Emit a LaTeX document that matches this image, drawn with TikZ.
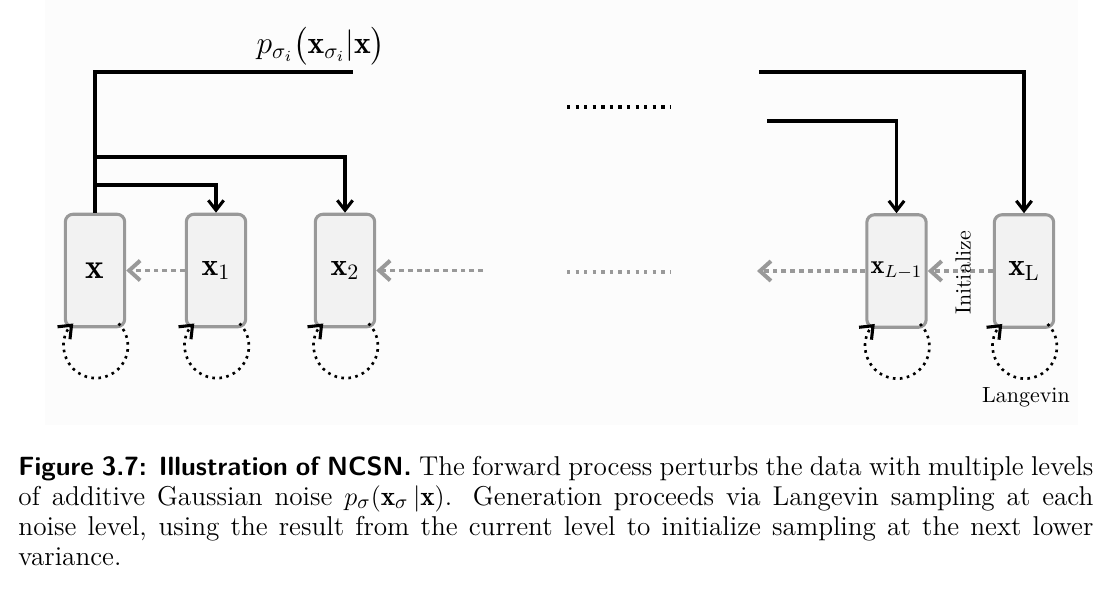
\documentclass[tikz,border=0pt]{standalone}
\usepackage{amsmath,amssymb}
\usepackage{fontspec}
\usetikzlibrary{arrows.meta}
\definecolor{boxgray}{rgb}{0.6,0.6,0.6}
\definecolor{boxfill}{rgb}{0.95,0.95,0.95}
\definecolor{backwhite}{rgb}{0.99,0.99,0.99}

\begin{document}
\begin{tikzpicture}[line join=miter,x=0.16cm,y=0.16cm,
    level/.style={draw=boxgray,fill=boxfill,line width=1.4pt,rounded corners=3.5pt,
        minimum width=0.95cm,minimum height=1.8cm,inner sep=0pt,font=\Large},
    perturb/.style={line width=1.4pt},
    perturbarrow/.style={perturb,-{Straight Barb[length=4.5pt,width=7pt]}},
    initarrow/.style={boxgray,line width=1.8pt,dash pattern=on 2.2pt off 1.8pt,
        -{Straight Barb[length=5pt,width=9pt]}},
    skipdots/.style={line width=1.5pt,dash pattern=on 1.5pt off 2.4pt},
    langevin/.style={line width=1.2pt,dash pattern=on 1.2pt off 2pt,
        -{Straight Barb[length=5pt,width=8pt,line width=1.4pt]}}]

    \useasboundingbox (0,0) rectangle (111.3,-58.9);
    \fill[backwhite] (4.5,0) rectangle (107.8,-42.5);

    % noise levels
    \node[level,font=\fontsize{16}{18}\selectfont] (x0) at (9.5,-27.05) {$\mathbf{x}$};
    \node[level] (x1) at (21.6,-27.05) {$\mathbf{x}_1$};
    \node[level] (x2) at (34.5,-27.05) {$\mathbf{x}_2$};
    \node[level,font=\large] (xLm) at (89.65,-27.1) {$\mathbf{x}_{L-1}$};
    \node[level] (xL) at (102.4,-27.1) {$\mathbf{x}_\mathrm{L}$};

    % forward process
    \coordinate (topL) at (35.3,-7.2);
    \coordinate (br2) at (0,-15.7);
    \coordinate (br1) at (0,-18.5);
    \draw[perturb] (x0.north) |- (topL);
    \draw[perturbarrow] (x0.north |- br2) -| (x2.north);
    \draw[perturbarrow] (x0.north |- br1) -| (x1.north);
    \node (plabel) at (32.1,-4.6) {\Large $p_{\sigma_i}\bigl(\mathbf{x}_{\sigma_i}|\mathbf{x}\bigr)$};

    \coordinate (topR) at (75.9,-7.2);
    \coordinate (midR) at (76.7,-12.1);
    \draw[perturbarrow] (topR) -| (xL.north);
    \draw[perturbarrow] (midR) -| (xLm.north);

    \coordinate (skipA) at (56.7,-10.7);
    \coordinate (skipB) at (67.1,-10.7);
    \draw[skipdots] (skipA) -- (skipB);

    % initialization chain
    \coordinate (chainA) at (48.3,-27.05);
    \coordinate (chainB) at (75.7,-27.1);
    \coordinate (skipC) at (56.7,-27.2);
    \coordinate (skipD) at (67.1,-27.2);
    \draw[initarrow] (x1) -- (x0);
    \draw[initarrow] (chainA) -- (x2);
    \draw[skipdots,boxgray] (skipC) -- (skipD);
    \draw[initarrow] (xLm) -- (chainB);
    \draw[initarrow] (xL) -- (xLm);
    \node[rotate=90,font=\fontsize{10}{12}\selectfont] (initlbl) at (96.3,-27.3) {Initialize};

    % Langevin loops
    \draw[langevin] ([shift={(-0.77,0.48)}]x0.south east) arc[start angle=45,end angle=-225,radius=3.2];
    \draw[langevin] ([shift={(-0.77,0.48)}]x1.south east) arc[start angle=45,end angle=-225,radius=3.2];
    \draw[langevin] ([shift={(-0.77,0.48)}]x2.south east) arc[start angle=45,end angle=-225,radius=3.2];
    \draw[langevin] ([shift={(-0.77,0.48)}]xLm.south east) arc[start angle=45,end angle=-225,radius=3.2];
    \draw[langevin] ([shift={(-0.77,0.48)}]xL.south east) arc[start angle=45,end angle=-225,radius=3.2];
    \node[font=\fontsize{10}{12}\selectfont] (langlbl) at (102.6,-39.7) {Langevin};

    % caption
    \node[anchor=base west,inner sep=0pt,text width=17.2cm,align=justify,
        font=\fontsize{12.4}{13.66}\selectfont] (caption) at (1.8,-47.5)
        {{\sffamily\bfseries\fontsize{12}{13.66}\selectfont Figure 3.7: Illustration of NCSN.} The forward process perturbs the data with multiple levels\linebreak
         of additive Gaussian noise $p_\sigma(\mathbf{x}_\sigma\,|\mathbf{x})$. Generation proceeds via Langevin sampling at each\linebreak
         noise level, using the result from the current level to initialize sampling at the next lower\linebreak
         variance.};
\end{tikzpicture}
\end{document}
